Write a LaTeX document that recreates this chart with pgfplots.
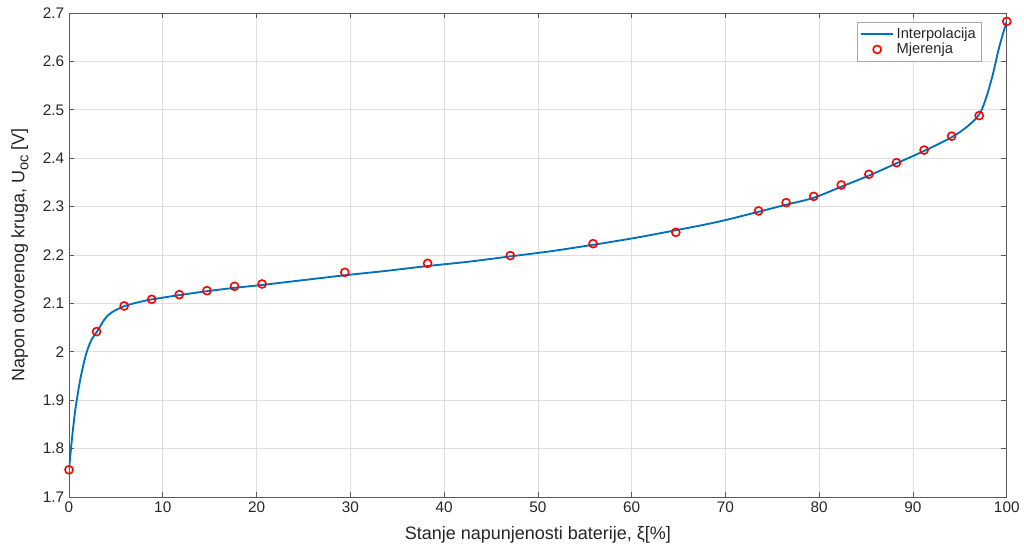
\documentclass[border=0pt]{standalone}
\usepackage{pgfplots}
\pgfplotsset{compat=1.18}
\usepackage{fontspec}
\setmainfont{Liberation Sans}
\definecolor{mblue}{RGB}{0,114,189}
\definecolor{axgray}{RGB}{38,38,38}
\definecolor{gridgray}{RGB}{223,223,223}
\begin{document}
\begin{tikzpicture}
\begin{axis}[
  scale only axis,
  width=703.5pt, height=363pt,
  xmin=0, xmax=100, ymin=1.7, ymax=2.7,
  xtick={0,10,...,100},
  ytick={1.7,1.8,1.9,2,2.1,2.2,2.3,2.4,2.5,2.6,2.7},
  yticklabels={1.7,1.8,1.9,2,2.1,2.2,2.3,2.4,2.5,2.6,2.7},
  /pgf/number format/assume math mode=true,
  tick label style={font=\fontsize{11.5}{13}\selectfont, text=axgray},
  label style={font=\fontsize{13.5}{15}\selectfont, text=axgray},
  xlabel={Stanje napunjenosti baterije, ξ[\%]},
  ylabel={Napon otvorenog kruga, U{\fontsize{11}{12}\selectfont\raisebox{-3pt}{oc}} [V]},
  xlabel style={yshift=-4pt},
  ylabel style={yshift=4pt},
  grid=major,
  major grid style={gridgray, line width=0.5pt},
  axis line style={gray!70!black, line width=0.5pt},
  tick style={gray!70!black, line width=0.5pt},
  tick align=inside,
  major tick length=4pt,
  legend style={at={(0.973,0.981)}, anchor=north east, draw=gray!70, line width=0.5pt,
    font=\fontsize{11}{13}\selectfont, text=axgray, row sep=-2pt, inner sep=2pt},
  legend image code/.code={\draw[#1] (0pt,0pt) -- (24pt,0pt);},
  legend cell align=left,
]
\addplot[mblue, line width=1.4pt, smooth, tension=0.5, mark=none] coordinates {
(0,1.756) (0.27,1.811) (0.63,1.874) (0.98,1.918) (1.34,1.956) (1.87,1.998)
(2.41,2.025) (2.97,2.041) (3.83,2.068) (4.54,2.081) (5.88,2.094) (7.35,2.102)
(8.82,2.108) (11.76,2.117) (14.7,2.125) (17.65,2.132) (20.6,2.138) (25,2.148)
(29.4,2.158) (33.8,2.167) (38.2,2.177) (42.6,2.186) (47.06,2.197) (51.5,2.208)
(55.9,2.221) (60.3,2.235) (64.7,2.251) (69.1,2.268) (73.5,2.289) (76.5,2.304)
(79.4,2.318) (82.35,2.341) (85.3,2.364) (88.2,2.389) (91.2,2.415) (94.1,2.443)
(95.7,2.464) (97.06,2.490) (97.8,2.525) (98.5,2.572) (99.2,2.630) (100,2.683)
};
\addlegendentry{Interpolacija}
\addplot[only marks, mark=o, mark size=3pt, mark options={draw=red, fill=white, line width=1.2pt},
  legend image code/.code={\draw[mark=o, mark size=3pt, mark options={draw=red, fill=white, line width=1.2pt}] plot coordinates {(12pt,0pt)};}] coordinates {
(0,1.756) (2.94,2.0415) (5.88,2.0946) (8.82,2.1083) (11.76,2.118) (14.71,2.1262)
(17.65,2.1351) (20.59,2.140) (29.41,2.164) (38.24,2.1826) (47.06,2.1986) (55.88,2.2233)
(64.71,2.2467) (73.53,2.291) (76.47,2.308) (79.41,2.321) (82.35,2.3446) (85.29,2.3666)
(88.24,2.3907) (91.18,2.4167) (94.12,2.4455) (97.06,2.488) (100,2.6826)
};
\addlegendentry{Mjerenja}
\end{axis}
\path (current axis.south west) ++(-51.75pt,-39.75pt) coordinate (bl);
\path (current axis.north east) ++(12.75pt,9.75pt) coordinate (tr);
\path (bl) rectangle (tr);
\end{tikzpicture}
\end{document}
